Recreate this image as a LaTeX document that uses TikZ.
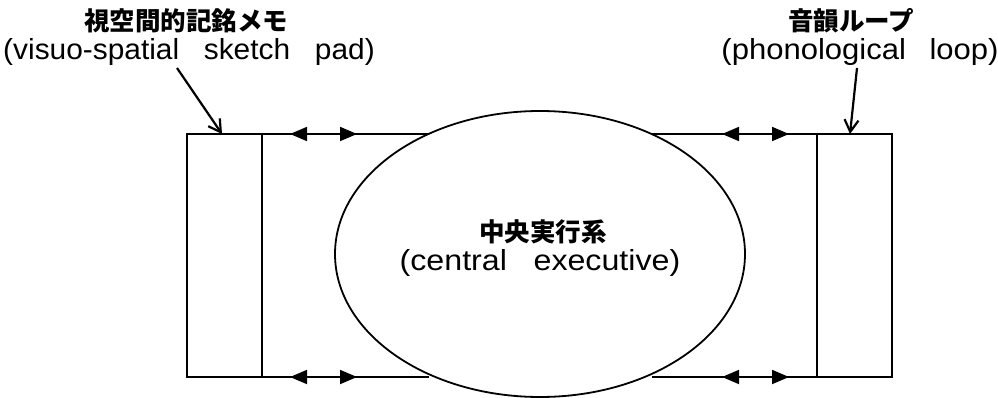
\documentclass[tikz,border=0pt]{standalone}
\usepackage{graphicx}
\usepackage{fontspec}
\setmainfont{Noto Sans CJK JP}
\newfontfamily\latinfont{Liberation Sans}
\usetikzlibrary{arrows.meta,decorations.markings,shapes.geometric}
\begin{document}
\begin{tikzpicture}[x=1pt,y=-1pt,
  box/.style={draw,line width=1.8pt,minimum width=75pt,minimum height=243pt,inner sep=0pt,outer sep=0pt},
  link/.style={line width=1.8pt, postaction={decorate}, decoration={markings,
     mark=at position 28pt with {\arrowreversed{Triangle[length=17pt,width=14pt]}},
     mark=at position 95pt with {\arrow{Triangle[length=17pt,width=14pt]}}}},
  jlbl/.style={font=\fontsize{25.5}{25.5}\selectfont\bfseries, inner sep=0pt},
  elbl/.style={font=\fontsize{29}{29}\selectfont\latinfont, inner sep=0pt},
  pointer/.style={line width=2.2pt, -{Straight Barb[length=12pt,width=14pt]}}
]
\useasboundingbox (0,0) rectangle (998,398);
\node[box] (lbox) at (224.5,255.5) {};
\node[box] (rbox) at (854.5,255.5) {};
\node[draw, ellipse, line width=1.8pt, minimum width=410pt, minimum height=286pt, inner sep=0pt] (ce) at (540,254) {};
\coordinate (e1) at (428.5,134);
\coordinate (e2) at (428.5,377);
\coordinate (e3) at (651.5,134);
\coordinate (e4) at (651.5,377);
\draw[link] (lbox.north east) -- (e1);
\draw[link] (lbox.south east) -- (e2);
\draw[link] (rbox.north west) -- (e3);
\draw[link] (rbox.south west) -- (e4);
\node[jlbl] (vsjp) at (186,21) {視空間的記銘メモ};
\node[elbl] (vsen) at (189,52) {\scalebox{1.03}[1]{(visuo-spatial\hspace{24pt}sketch\hspace{24pt}pad)}};
\node[jlbl] (pljp) at (851,21) {音韻ループ};
\node[elbl] (plen) at (860,52) {\scalebox{1.07}[1]{(phonological\hspace{22pt}loop)}};
\node[jlbl] (cejp) at (543,232) {中央実行系};
\node[elbl] (ceen) at (540,263) {\scalebox{1.11}[1]{(central\hspace{24pt}executive)}};
\coordinate (p1) at (177,68);
\coordinate (p2) at (857,68);
\draw[pointer] (p1) -- ([xshift=-2.5pt]lbox.north);
\draw[pointer] (p2) -- ([xshift=-4.5pt]rbox.north);
\end{tikzpicture}
\end{document}
